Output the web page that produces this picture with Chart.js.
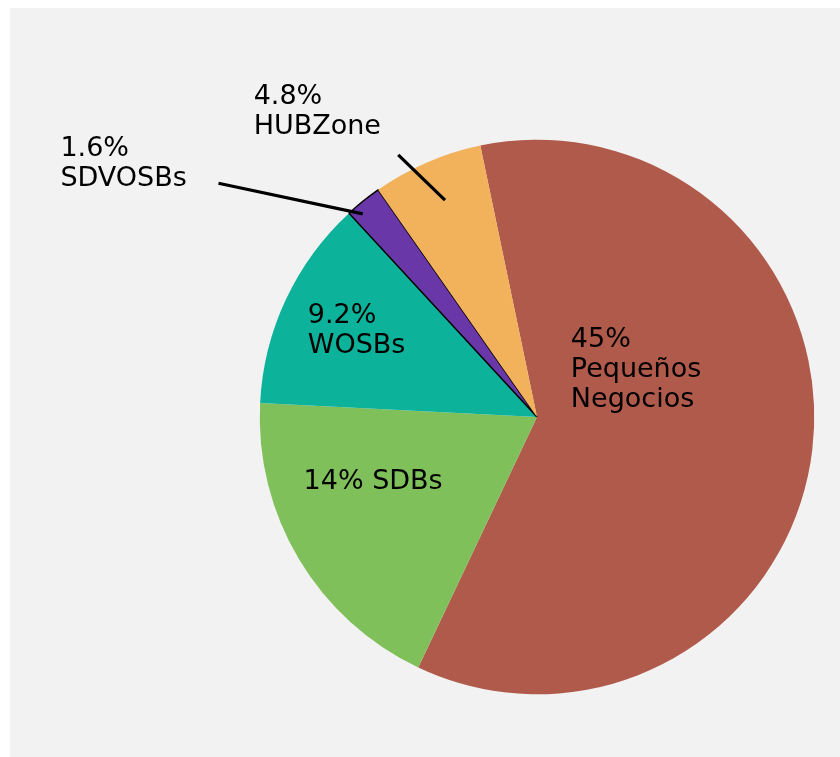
<!DOCTYPE html>
<html>
<head>
<meta charset="utf-8">
<script src="https://cdn.jsdelivr.net/npm/chart.js@4.4.1/dist/chart.umd.min.js"></script>
<style>
  html, body { margin: 0; padding: 0; background: #ffffff; }
  #wrap { position: absolute; left: 10px; top: 8px; width: 830px; height: 749px; background: #f2f2f2; }
</style>
</head>
<body>
<div id="wrap"><canvas id="c"></canvas></div>
<script>
// ---- data ----
const categories = ['Pequeños Negocios', 'SDBs', 'WOSBs', 'SDVOSBs', 'HUBZone'];
const shares = [45, 14, 9.2, 1.6, 4.8];
const colors = ['#b05a4b', '#80c05b', '#0db29b', '#6a37a8', '#f2b25c'];

// label text lines built from the data
const labelLines = [
  [shares[0] + '%', 'Pequeños', 'Negocios'],
  [shares[1] + '% ' + categories[1]],
  [shares[2] + '%', categories[2]],
  [shares[3] + '%', categories[3]],
  [shares[4] + '%', categories[4]]
];

// label anchors relative to pie centre, in units of radius (left-aligned, first baseline)
const labelAnchor = [
  [0.122, -0.252],
  [-0.842, 0.259],
  [-0.827, -0.338],
  [-1.719, -0.942],
  [-1.022, -1.129]
];
// leader lines: [slice index, startAngleOffsetDeg, startRadiusFactor, endAngleOffsetDeg, endRadiusFactor]
const leaders = [
  [3, -14.9, 1.425, -1.8, 0.965],
  [4, -4.5, 1.07, 0.4, 0.85]
];

const labelPlugin = {
  id: 'sliceLabels',
  afterDatasetsDraw(chart) {
    const ctx = chart.ctx;
    const meta = chart.getDatasetMeta(0);
    const a0 = meta.data[0];
    const cx = a0.x, cy = a0.y, R = a0.outerRadius;
    ctx.save();
    // leader lines
    ctx.strokeStyle = '#000';
    ctx.lineWidth = 3.2;
    ctx.lineCap = 'butt';
    leaders.forEach(([i, so, sr, eo, er]) => {
      const arc = meta.data[i];
      const mid = (arc.startAngle + arc.endAngle) / 2;
      const s = mid + so * Math.PI / 180, e = mid + eo * Math.PI / 180;
      ctx.beginPath();
      ctx.moveTo(cx + Math.cos(s) * R * sr, cy + Math.sin(s) * R * sr);
      ctx.lineTo(cx + Math.cos(e) * R * er, cy + Math.sin(e) * R * er);
      ctx.stroke();
    });
    // texts
    ctx.fillStyle = '#000';
    ctx.font = '27px "DejaVu Sans", Verdana, sans-serif';
    ctx.textAlign = 'left';
    ctx.textBaseline = 'alphabetic';
    const lh = 30;
    labelLines.forEach((lines, i) => {
      const [fx, fy] = labelAnchor[i];
      const x = cx + fx * R, y = cy + fy * R;
      lines.forEach((t, k) => ctx.fillText(t, x, y + k * lh));
    });
    ctx.restore();
  }
};

new Chart(document.getElementById('c'), {
  type: 'pie',
  data: {
    labels: categories,
    datasets: [{
      data: shares,
      backgroundColor: colors,
      borderColor: ['#b05a4b', '#80c05b', '#0db29b', '#000000', '#f2b25c'],
      borderWidth: [0, 0, 0, 1.5, 0]
    }]
  },
  options: {
    responsive: true,
    maintainAspectRatio: false,
    animation: false,
    rotation: -11.8,
    layout: { padding: { left: 249, right: 25, top: 131, bottom: 62 } },
    plugins: {
      legend: { display: false },
      tooltip: { enabled: false }
    }
  },
  plugins: [labelPlugin]
});
</script>
</body>
</html>
